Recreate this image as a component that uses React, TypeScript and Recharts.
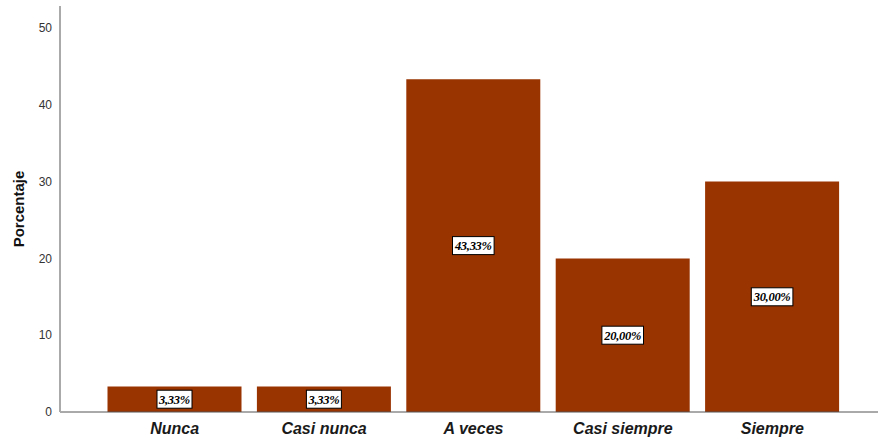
import React from "react";
import { BarChart, Bar, XAxis, YAxis, LabelList } from "recharts";

const categories = ["Nunca", "Casi nunca", "A veces", "Casi siempre", "Siempre"];
const percentages = [3.33, 3.33, 43.33, 20.0, 30.0];
const yTicks = [0, 10, 20, 30, 40, 50];

const data = categories.map((name, i) => ({ name, value: percentages[i] }));

const fmt = (v: number) => v.toFixed(2).replace(".", ",") + "%";

const BoxLabel = (props: any) => {
  const { x, y, width, height, value } = props;
  const cx = x + width / 2;
  const cy = y + height / 2;
  const text = fmt(value);
  const w = text.length * 6.6 + 2;
  const h = 18;
  return (
    <g>
      <rect x={cx - w / 2} y={cy - h / 2} width={w} height={h} fill="#fff" stroke="#000" strokeWidth={1} />
      <text
        x={cx}
        y={cy + 4.5}
        textAnchor="middle"
        fontFamily="'Liberation Serif', 'Times New Roman', serif"
        fontWeight="bold"
        fontStyle="italic"
        fontSize={12.5}
        letterSpacing={-0.3}
        fill="#000"
      >
        {text}
      </text>
    </g>
  );
};

const YTitle = (props: any) => {
  const { viewBox } = props;
  const x = viewBox.x + 18;
  const y = viewBox.y + viewBox.height / 2;
  return (
    <text
      x={x}
      y={y}
      transform={`rotate(-90, ${x}, ${y})`}
      textAnchor="middle"
      dominantBaseline="central"
      fontFamily="Arial, 'Liberation Sans', sans-serif"
      fontWeight="bold"
      fontSize={15}
      fill="#111"
    >
      Porcentaje
    </text>
  );
};

export default function App() {
  return (
    <div style={{ position: "absolute", left: 0, top: 0, width: 878, height: 440, background: "#fff" }}>
      <BarChart
        width={878}
        height={440}
        data={data}
        margin={{ top: 6, right: 0, bottom: 0, left: 0 }}
        barCategoryGap={7.5}
      >
        <XAxis
          dataKey="name"
          height={28}
          padding={{ left: 40, right: 31 }}
          tickLine={false}
          axisLine={{ stroke: "#555", strokeWidth: 1 }}
          tick={{
            fill: "#1a1a1a",
            fontSize: 16,
            fontWeight: "bold",
            fontStyle: "italic",
            fontFamily: "Arial, 'Liberation Sans', sans-serif",
          }}
          tickMargin={5}
          interval={0}
        />
        <YAxis
          width={60}
          domain={[0, 52.86]}
          ticks={yTicks}
          tickLine={false}
          axisLine={{ stroke: "#aaa", strokeWidth: 2 }}
          tick={{ fill: "#333", fontSize: 12, fontFamily: "Arial, 'Liberation Sans', sans-serif" }}
          tickMargin={2}
          label={{ content: <YTitle /> }}
        />
        <Bar dataKey="value" fill="#993300" isAnimationActive={false}>
          <LabelList dataKey="value" content={<BoxLabel />} />
        </Bar>
      </BarChart>
    </div>
  );
}
